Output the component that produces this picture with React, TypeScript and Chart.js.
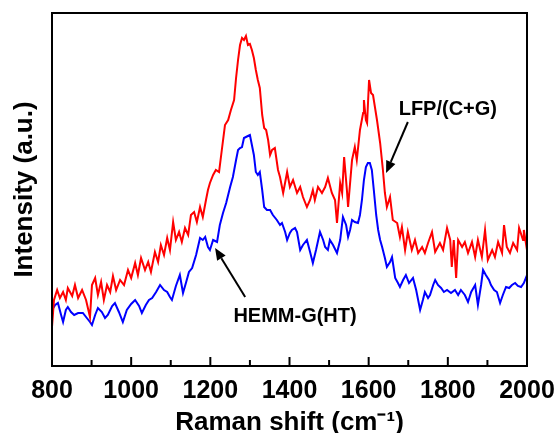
import React, { useEffect, useRef } from "react";
import { Chart, registerables } from "chart.js";

Chart.register(...registerables);

// LFP/(C+G) spectrum (red)
const redShift = [800, 805, 813, 820, 828, 835, 840, 851, 858, 866, 876, 886, 896, 901, 909, 916, 924, 931, 939, 947, 954, 962, 972, 982, 992, 1000, 1010, 1017, 1025, 1035, 1043, 1050, 1060, 1068, 1075, 1083, 1091, 1098, 1106, 1113, 1121, 1128, 1136, 1144, 1151, 1159, 1166, 1174, 1181, 1189, 1194, 1199, 1207, 1214, 1222, 1229, 1237, 1245, 1252, 1260, 1265, 1270, 1275, 1280, 1285, 1290, 1295, 1300, 1305, 1310, 1315, 1320, 1325, 1331, 1336, 1341, 1346, 1351, 1356, 1363, 1371,
  1376, 1384, 1394, 1401, 1409, 1419, 1427, 1434, 1444, 1452, 1459, 1464, 1472, 1482, 1490, 1497, 1507, 1515, 1520, 1528, 1533, 1538, 1545, 1548, 1558, 1565, 1570, 1578, 1586, 1588, 1593, 1596, 1601, 1606, 1611, 1621, 1629, 1636, 1641, 1646, 1654, 1661, 1672, 1679, 1684, 1692, 1699, 1709, 1717, 1725, 1735, 1742, 1750, 1760, 1768, 1780, 1788, 1798, 1806, 1810, 1815, 1821, 1826, 1836, 1843, 1851, 1861, 1869, 1876, 1886, 1894, 1901, 1912, 1919, 1927, 1937, 1942, 1949, 1957, 1965, 1975, 1980, 1990, 1992, 2000];
const redIntensity = [39, 66, 76, 68, 74, 66, 78, 70, 81, 68, 76, 66, 49, 81, 88, 71, 84, 66, 81, 74, 90, 76, 86, 81, 96, 88, 103, 91, 108, 96, 104, 94, 114, 104, 121, 111, 128, 116, 144, 126, 134, 124, 138, 131, 151, 154, 144, 159, 149, 166, 176, 183, 191, 196, 194, 216, 241, 246, 256, 266, 288, 306, 321, 328, 326, 330, 321, 322, 316, 308, 296, 286, 278, 251, 238, 236, 226, 211, 216, 218, 196,
  189, 173, 194, 179, 186, 173, 179, 169, 159, 166, 176, 166, 179, 173, 179, 188, 173, 166, 143, 183, 173, 209, 176, 159, 206, 219, 206, 236, 253, 266, 246, 243, 286, 273, 271, 246, 223, 196, 173, 159, 169, 146, 143, 129, 139, 116, 134, 116, 126, 113, 119, 113, 123, 134, 114, 123, 116, 138, 126, 99, 126, 88, 126, 119, 124, 113, 124, 109, 126, 109, 136, 106, 116, 109, 124, 113, 141, 119, 113, 123, 116, 138, 126, 136, 116];

// HEMM-G(HT) spectrum (blue)
const blueShift = [800, 808, 815, 823, 828, 835, 840, 848, 856, 866, 878, 888, 896, 901, 909, 916, 926, 934, 941, 952, 959, 969, 979, 989, 1000, 1010, 1020, 1027, 1037, 1045, 1053, 1063, 1073, 1083, 1091, 1098, 1103, 1113, 1123, 1131, 1139, 1146, 1154, 1164, 1174, 1181, 1187, 1194, 1199, 1207, 1217, 1224, 1232, 1240, 1250, 1257, 1265, 1270, 1275, 1280, 1285, 1290, 1295, 1300, 1305, 1310, 1315, 1320, 1325, 1331, 1336, 1343, 1351, 1358, 1368, 1376, 1381, 1389, 1394, 1401, 1406, 1414, 1419, 1427, 1434, 1444, 1452, 1459, 1467, 1477, 1485, 1490, 1497, 1502, 1510, 1520, 1528, 1535, 1543, 1548, 1553, 1558, 1565, 1573, 1578, 1583, 1588, 1593, 1598, 1603, 1608, 1613, 1619, 1624, 1629, 1634, 1641, 1646, 1654, 1659, 1667, 1674, 1679, 1687, 1694, 1702, 1712, 1720, 1730, 1737, 1742, 1750, 1755, 1763, 1768, 1775, 1783, 1790, 1798, 1808, 1818, 1826, 1833, 1843, 1851, 1859, 1869, 1876, 1884, 1889, 1896, 1904, 1909, 1917, 1924, 1932, 1939, 1947, 1955, 1962, 1970, 1977, 1985, 1992, 2000];
const blueIntensity = [56, 61, 63, 51, 44, 56, 59, 54, 51, 53, 53, 48, 44, 41, 51, 58, 54, 48, 51, 60, 63, 54, 44, 56, 62, 66, 60, 53, 61, 66, 68, 74, 81, 76, 74, 69, 66, 80, 91, 73, 84, 94, 98, 111, 128, 126, 129, 119, 116, 126, 124, 141, 153, 163, 179, 189, 206, 216, 218, 219, 228, 229, 230, 231, 221, 211, 194, 191, 194, 176, 159, 156, 156, 151, 146, 141, 143, 134, 126, 133, 136, 138, 134, 116, 121, 126, 114, 103, 116, 134, 126, 119, 116, 126, 121, 113, 126, 149, 141, 129, 136, 146, 144, 143, 151, 166, 186, 199, 203, 203, 196, 176, 151, 136, 126, 119, 108, 99, 104, 109, 88, 83, 79, 86, 91, 83, 88, 76, 56, 66, 74, 68, 71, 81, 86, 81, 78, 74, 76, 73, 76, 71, 76, 71, 64, 74, 81, 61, 81, 96, 91, 86, 81, 76, 74, 63, 71, 79, 78, 81, 83, 80, 79, 83, 91];

const xTickValues = [800, 1000, 1200, 1400, 1600, 1800, 2000];
const seriesNames = ["LFP/(C+G)", "HEMM-G(HT)"];

const FONT = "'Liberation Sans', Arial, Helvetica, sans-serif";

const framePlugin = {
  id: "frameAndAnnotations",
  afterDraw(chart: any) {
    const { ctx, chartArea } = chart;
    const xs = chart.scales.x;
    const ys = chart.scales.y;
    ctx.save();
    ctx.strokeStyle = "#000";
    ctx.lineWidth = 2;
    ctx.strokeRect(chartArea.left, chartArea.top, chartArea.right - chartArea.left, chartArea.bottom - chartArea.top);
    for (let v = 800; v <= 2000; v += 100) {
      const px = xs.getPixelForValue(v);
      const major = v % 200 === 0;
      ctx.beginPath();
      ctx.moveTo(px, chartArea.bottom);
      ctx.lineTo(px, chartArea.bottom - (major ? 9 : 6));
      ctx.stroke();
    }
    const drawArrow = (x1: number, y1: number, x2: number, y2: number) => {
      const ax = xs.getPixelForValue(x1), ay = ys.getPixelForValue(y1);
      const bx = xs.getPixelForValue(x2), by = ys.getPixelForValue(y2);
      const ang = Math.atan2(by - ay, bx - ax);
      const hl = 12, hw = 5;
      const ex = bx - hl * Math.cos(ang), ey = by - hl * Math.sin(ang);
      ctx.beginPath();
      ctx.moveTo(ax, ay);
      ctx.lineTo(ex, ey);
      ctx.lineWidth = 2;
      ctx.stroke();
      ctx.beginPath();
      ctx.moveTo(bx, by);
      ctx.lineTo(ex + hw * Math.sin(ang), ey - hw * Math.cos(ang));
      ctx.lineTo(ex - hw * Math.sin(ang), ey + hw * Math.cos(ang));
      ctx.closePath();
      ctx.fillStyle = "#000";
      ctx.fill();
    };
    ctx.font = `bold 20px ${FONT}`;
    ctx.fillStyle = "#000";
    ctx.textAlign = "center";
    ctx.textBaseline = "middle";
    ctx.fillText(seriesNames[0], xs.getPixelForValue(1800), ys.getPixelForValue(257));
    ctx.fillText(seriesNames[1], xs.getPixelForValue(1414), ys.getPixelForValue(50));
    drawArrow(1699, 244, 1644, 193);
    drawArrow(1288, 69, 1212, 118);
    ctx.restore();
  },
};

export default function App() {
  const ref = useRef<HTMLCanvasElement>(null);
  useEffect(() => {
    if (!ref.current) return;
    const chart = new Chart(ref.current, {
      type: "line",
      data: {
        datasets: [
          {
            label: seriesNames[0],
            data: redShift.map((x, i) => ({ x, y: redIntensity[i] })),
            borderColor: "#ff0000",
            borderWidth: 2,
            pointRadius: 0,
            tension: 0,
          },
          {
            label: seriesNames[1],
            data: blueShift.map((x, i) => ({ x, y: blueIntensity[i] })),
            borderColor: "#0000ff",
            borderWidth: 2,
            pointRadius: 0,
            tension: 0,
          },
        ],
      },
      options: {
        animation: false,
        responsive: true,
        maintainAspectRatio: false,
        layout: { padding: { top: 13, right: 31, left: 0, bottom: 0 } },
        plugins: { legend: { display: false }, tooltip: { enabled: false } },
        scales: {
          x: {
            type: "linear",
            min: 800,
            max: 2000,
            afterFit(scale: any) {
              scale.height = 67;
              scale.paddingLeft = 0;
              scale.paddingRight = 0;
            },
            afterBuildTicks(scale: any) { scale.ticks = xTickValues.map((v) => ({ value: v })); },
            grid: { display: false, drawTicks: false },
            border: { display: false },
            ticks: {
              padding: 10,
              color: "#000",
              font: { family: FONT, size: 25, weight: "bold" },
              maxRotation: 0,
              callback: (v: any) => String(v),
            },
            title: {
              display: true,
              text: "Raman shift (cm\u207B\u00B9)",
              color: "#000",
              font: { family: FONT, size: 26, weight: "bold", lineHeight: 1 },
              padding: { top: 0, bottom: -3 },
            },
          },
          y: {
            min: 0,
            max: 353,
            afterFit(scale: any) { scale.width = 52; },
            grid: { display: false, drawTicks: false },
            border: { display: false },
            ticks: { display: false },
            title: {
              display: true,
              text: "Intensity (a.u.)",
              color: "#000",
              font: { family: FONT, size: 26, weight: "bold", lineHeight: 1 },
              padding: { top: 12, bottom: 0 },
            },
          },
        },
      },
      plugins: [framePlugin],
    });
    return () => chart.destroy();
  }, []);
  return (
    <div style={{ position: "fixed", left: 0, top: 0, width: 558, height: 433, background: "#fff" }}>
      <canvas ref={ref} />
    </div>
  );
}
